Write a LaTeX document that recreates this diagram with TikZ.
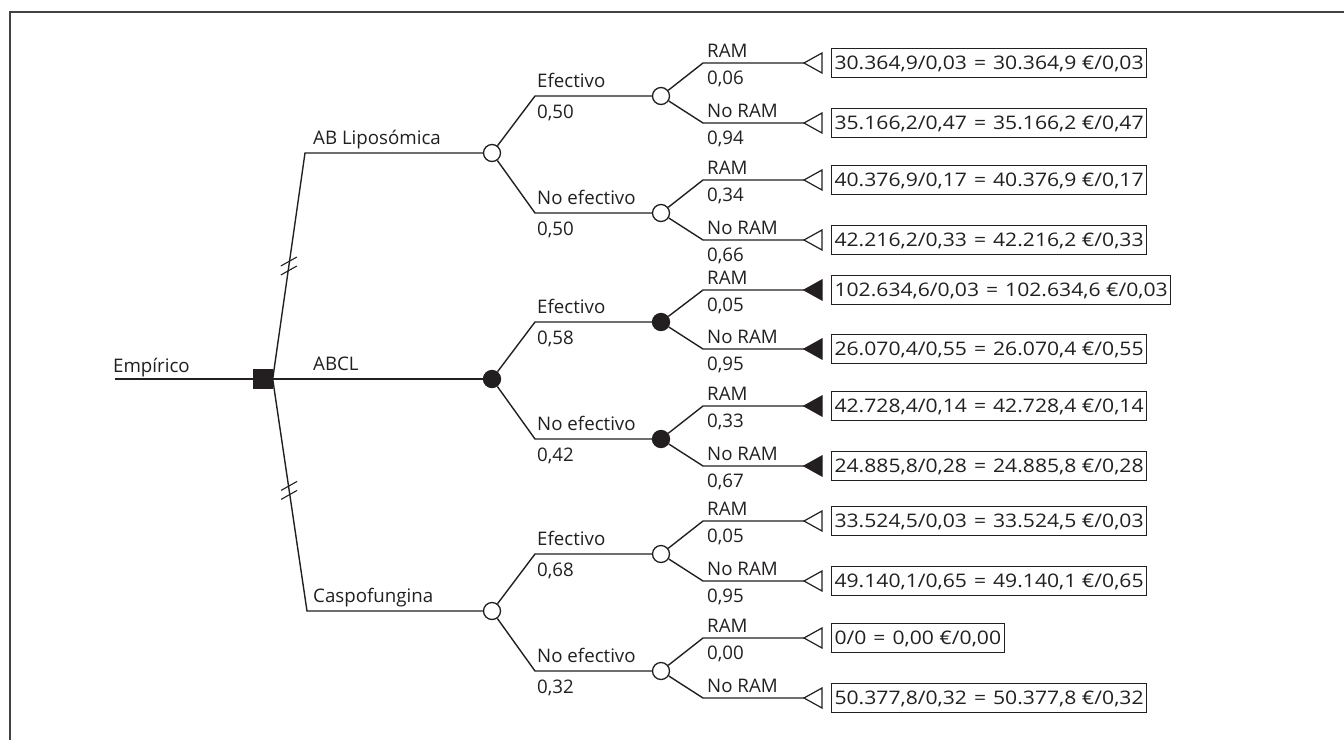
\documentclass[tikz,border=0pt]{standalone}
\usepackage{fontspec}
\setmainfont{Open Sans}
\newfontfamily\boxfont[FakeStretch=1.13]{Open Sans}
\definecolor{ink}{HTML}{231F20}
\newcommand{\eqsp}{\hspace{7pt}=\hspace{7pt}}
\tikzset{
  every node/.style={font=\fontsize{18.7}{22}\selectfont, text=ink},
  ln/.style={draw=ink, line width=1.4pt},
  frame/.style={draw=ink!85, line width=1.4pt},
  lbl/.style={inner sep=0pt},
  chW/.style={circle, draw=ink, fill=white, line width=1.3pt, minimum size=17pt, inner sep=0pt},
  chB/.style={circle, draw=ink, fill=ink, line width=1.3pt, minimum size=17pt, inner sep=0pt},
  decbox/.style={rectangle, draw=ink, fill=ink, minimum size=19pt, inner sep=0pt},
  triW/.style={draw=ink, fill=white, line width=1.2pt, line join=miter},
  triB/.style={triW, fill=ink},
  valbox/.style={rectangle, draw=ink, line width=1.1pt, inner xsep=3pt, inner ysep=0pt, text height=15pt, text depth=2pt, minimum height=29pt, font=\boxfont\fontsize{18.7}{22}\selectfont},
}
% leaf: #1 id, #2 parent, #3 y, #4 label, #5 prob, #6 value, #7 triangle style
\newcommand{\mkleaf}[7]{%
  \coordinate (#1k) at (703,#3);
  \coordinate (#1t) at (804,#3);
  \draw[#7] (#1t) -- ++(18,-10) -- ++(0,20) -- cycle;
  \node[valbox, anchor=west] (#1v) at (831,#3) {#6};
  \draw[ln] (#2) -- (#1k) -- (#1t);
  \node[lbl, anchor=base west] (#1a) at (707,#3-6) {#4};
  \if\relax\detokenize{#5}\relax\else
  \node[lbl, anchor=base west] (#1b) at (707,#3+21) {#5};
  \fi
}
\begin{document}
\begin{tikzpicture}[x=1pt, y=-1pt]
\useasboundingbox (0,0) rectangle (1344,740);
% frame
\draw[frame] (10,740) -- (10,12) -- (1344,12);

% root
\coordinate (start) at (115,379);
\node[decbox] (root) at (263,379) {};
\node[lbl, anchor=base west] (emp) at (113,372) {Empírico};

% level 1
\coordinate (Ak) at (305,153);
\coordinate (Ck) at (307,611);
\node[chW] (A) at (492,153) {};
\node[chB] (B) at (492,379) {};
\node[chW] (C) at (492,611) {};
\draw[ln] (start) -- (root);
\draw[ln] (root.east) -- (Ak) -- (A);
\draw[ln] (root.east) -- (B);
\draw[ln] (root.east) -- (Ck) -- (C);
\node[decbox] at (root) {};
\node[lbl, anchor=base west] (Al) at (313,144) {AB Liposómica};
\node[lbl, anchor=base west] (Bl) at (313,370) {ABCL};
\node[lbl, anchor=base west] (Cl) at (313,602) {Caspofungina};

% hash marks
\path (root.east) -- (Ak) coordinate[pos=0.5] (h1);
\path (root.east) -- (Ck) coordinate[pos=0.48] (h2);
\foreach \h in {h1,h2}{
  \draw[ink, line width=1.1pt] ([shift={(-8,0)}]\h) -- ([shift={(8,-9)}]\h);
  \draw[ink, line width=1.1pt] ([shift={(-8,9)}]\h) -- ([shift={(8,0)}]\h);
}

% level 2
\foreach \p/\s/\ya/\yb in {A/chW/96/213, B/chB/322/439, C/chW/554/671}{
  \coordinate (\p ek) at (535,\ya);
  \coordinate (\p nk) at (535,\yb);
  \node[\s] (\p e) at (661,\ya) {};
  \node[\s] (\p n) at (661,\yb) {};
  \draw[ln] (\p) -- (\p ek) -- (\p e);
  \draw[ln] (\p) -- (\p nk) -- (\p n);
  \node[lbl, anchor=base west] (\p el) at (537,\ya-9) {Efectivo};
  \node[lbl, anchor=base west] (\p nl) at (537,\yb-9) {No efectivo};
}
\node[lbl, anchor=base west] (Aep) at (537,96+22) {0,50};
\node[lbl, anchor=base west] (Anp) at (537,213+22) {0,50};
\node[lbl, anchor=base west] (Bep) at (537,322+22) {0,58};
\node[lbl, anchor=base west] (Bnp) at (537,439+22) {0,42};
\node[lbl, anchor=base west] (Cep) at (537,554+22) {0,68};
\node[lbl, anchor=base west] (Cnp) at (537,671+22) {0,32};

% level 3
\mkleaf{l1}{Ae}{63}{RAM}{0,06}{30.364,9/0,03\eqsp30.364,9 €/0,03}{triW}
\mkleaf{l2}{Ae}{123}{No RAM}{0,94}{35.166,2/0,47\eqsp35.166,2 €/0,47}{triW}
\mkleaf{l3}{An}{180}{RAM}{0,34}{40.376,9/0,17\eqsp40.376,9 €/0,17}{triW}
\mkleaf{l4}{An}{240}{No RAM}{0,66}{42.216,2/0,33\eqsp42.216,2 €/0,33}{triW}
\mkleaf{l5}{Be}{290}{RAM}{0,05}{102.634,6/0,03\eqsp102.634,6 €/0,03}{triB}
\mkleaf{l6}{Be}{349}{No RAM}{0,95}{26.070,4/0,55\eqsp26.070,4 €/0,55}{triB}
\mkleaf{l7}{Bn}{406}{RAM}{0,33}{42.728,4/0,14\eqsp42.728,4 €/0,14}{triB}
\mkleaf{l8}{Bn}{466}{No RAM}{0,67}{24.885,8/0,28\eqsp24.885,8 €/0,28}{triB}
\mkleaf{l9}{Ce}{521}{RAM}{0,05}{33.524,5/0,03\eqsp33.524,5 €/0,03}{triW}
\mkleaf{l10}{Ce}{581}{No RAM}{0,95}{49.140,1/0,65\eqsp49.140,1 €/0,65}{triW}
\mkleaf{l11}{Cn}{638}{RAM}{0,00}{0/0\eqsp0,00 €/0,00}{triW}
\mkleaf{l12}{Cn}{698}{No RAM}{}{50.377,8/0,32\eqsp50.377,8 €/0,32}{triW}
\end{tikzpicture}
\end{document}
